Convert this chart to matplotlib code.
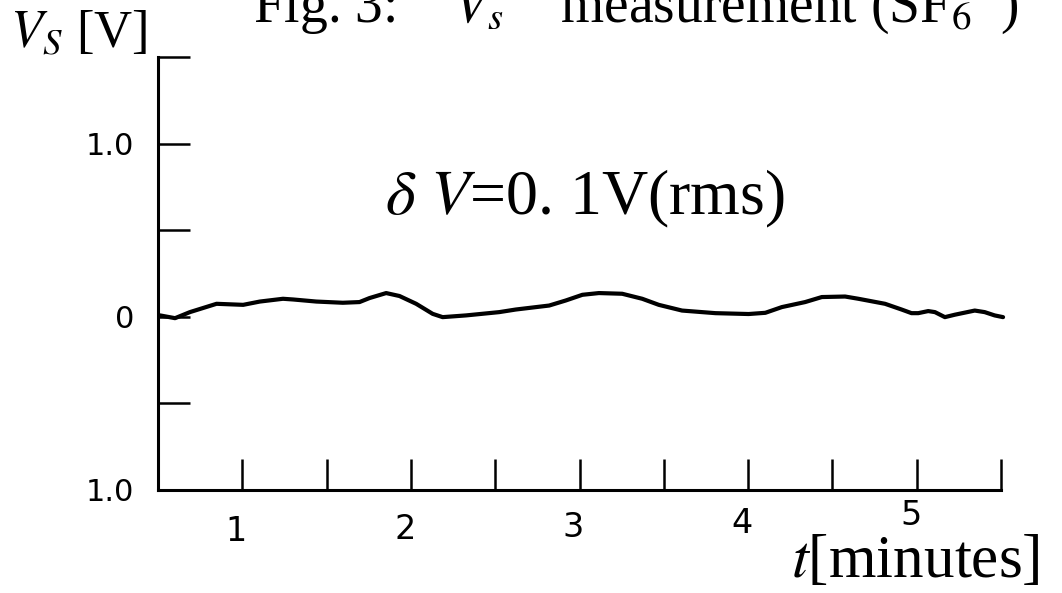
import matplotlib
matplotlib.use("Agg")
import matplotlib.pyplot as plt
import matplotlib.transforms as mtransforms

plt.rcParams['mathtext.fontset'] = 'stix'

# trace of V_s vs time
t_min = [0.512, 0.601, 0.689, 0.847, 1.005, 1.104, 1.241, 1.301, 1.439, 1.596,
         1.695, 1.754, 1.853, 1.932, 2.031, 2.129, 2.188, 2.327, 2.524, 2.622,
         2.820, 2.918, 3.017, 3.115, 3.253, 3.372, 3.470, 3.608, 3.806, 4.003,
         4.102, 4.200, 4.338, 4.437, 4.575, 4.654, 4.812, 4.910, 4.969, 5.009,
         5.068, 5.108, 5.167, 5.226, 5.344, 5.403, 5.462, 5.512]
v_s = [0.008, -0.008, 0.027, 0.075, 0.069, 0.088, 0.104, 0.100, 0.088, 0.081,
       0.085, 0.108, 0.137, 0.120, 0.075, 0.017, -0.002, 0.008, 0.027, 0.042,
       0.065, 0.094, 0.127, 0.137, 0.133, 0.104, 0.069, 0.036, 0.021, 0.016,
       0.023, 0.056, 0.085, 0.114, 0.117, 0.104, 0.075, 0.042, 0.021, 0.021,
       0.033, 0.027, -0.002, 0.012, 0.036, 0.027, 0.008, -0.002]

y_ticks = [1.5, 1.0, 0.5, 0.0, -0.5, -1.0]
y_labels = ["", "1.0", "", "0", "", "1.0"]
x_ticks = [1.0, 1.5, 2.0, 2.5, 3.0, 3.5, 4.0, 4.5, 5.0, 5.5]
x_labels = ["1", "", "2", "", "3", "", "4", "", "5", ""]

fig = plt.figure(figsize=(10.62, 5.93), dpi=100)
ax = fig.add_axes([0.1488, 0.1737, 0.7938, 0.7302])

ax.plot(t_min, v_s, color="black", lw=3.0, solid_joinstyle="round",
        solid_capstyle="round", clip_on=False)

ax.set_xlim(0.5, 5.5)
ax.set_ylim(-1.0, 1.5)
for s in ["top", "right"]:
    ax.spines[s].set_visible(False)
for s in ["left", "bottom"]:
    ax.spines[s].set_linewidth(2.2)

ax.set_yticks(y_ticks)
ax.set_yticklabels(y_labels, fontsize=22, family="DejaVu Sans")
ax.set_xticks(x_ticks)
ax.set_xticklabels(x_labels, fontsize=24,
                   family=["Liberation Sans Narrow", "DejaVu Sans"])
ax.tick_params(axis="y", direction="in", length=23, width=1.8, pad=17)
ax.tick_params(axis="x", direction="in", length=22, width=1.8, pad=18)

# the printed numbers drift a bit left and upward towards the right end
rise = [0, 0, 2, 0, 4, 0, 8, 0, 16, 0]
for lab, r in zip(ax.get_xticklabels(), rise):
    shift = mtransforms.ScaledTranslation(-6 / 100, r / 100, fig.dpi_scale_trans)
    lab.set_transform(lab.get_transform() + shift)

ax.text(3.03, 0.68, r"$\delta$ $V$=0. 1V(rms)", fontsize=46,
        family="Liberation Serif", ha="center", va="center")

fig.text(10 / 1062, 1 - 47 / 593, r"$V_S$ [V]", fontsize=38,
         family="Liberation Serif", ha="left", va="baseline")
fig.text(1040 / 1062, 1 - 577 / 593, r"$t$[minutes]", fontsize=44,
         family="Liberation Serif", ha="right", va="baseline")
fig.text(253 / 1062, 1 - 22 / 593,
         r"Fig. 3:    $V_s$    measurement (SF$_6$  )",
         fontsize=40, family="Liberation Serif", ha="left", va="baseline")

fig.savefig("out.png", dpi=100)
